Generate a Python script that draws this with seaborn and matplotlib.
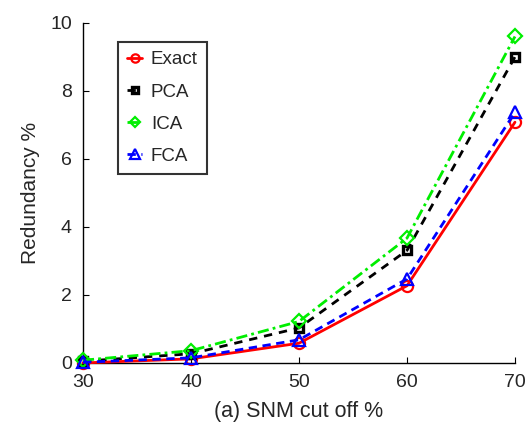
import matplotlib
matplotlib.use("Agg")
import matplotlib.pyplot as plt
import seaborn as sns
import pandas as pd

snm = [30, 40, 50, 60, 70]
exact = [0.0, 0.12, 0.58, 2.27, 7.08]
pca = [0.05, 0.27, 1.03, 3.31, 9.0]
ica = [0.08, 0.36, 1.22, 3.67, 9.6]
fca = [0.02, 0.15, 0.68, 2.47, 7.37]
xticks = [30, 40, 50, 60, 70]
yticks = [0, 2, 4, 6, 8, 10]

sns.set_style("white")
plt.rcParams['font.family'] = ['Liberation Sans', 'DejaVu Sans']

fig = plt.figure(figsize=(5.32, 4.24), dpi=100)
ax = fig.add_axes([0.156, 0.144, 0.812, 0.802])

series = [
    ("Exact", exact, "#ff0000", "-", "o", 8, 1.6),
    ("PCA", pca, "#000000", (0, (3, 2.5)), "s", 6, 2.4),
    ("ICA", ica, "#00ee00", (0, (4, 1.5, 1, 1.5)), "D", 7, 1.6),
    ("FCA", fca, "#0000ff", (0, (3, 2)), "^", 9, 1.6),
]
for name, vals, col, ls, mk, ms, mew in series:
    df = pd.DataFrame({"x": snm, "y": vals})
    sns.lineplot(data=df, x="x", y="y", ax=ax, color=col, linestyle=ls,
                 marker=mk, markersize=ms, markerfacecolor="none",
                 markeredgecolor=col, markeredgewidth=mew, linewidth=2,
                 label=name, zorder=3, clip_on=False)

ax.set_xlim(30, 70)
ax.set_ylim(0, 10)
ax.set_xticks(xticks)
ax.set_yticks(yticks)
ax.tick_params(direction="in", length=4, labelsize=14, color="black",
               bottom=True, left=True, pad=8)
for s in ["top", "right"]:
    ax.spines[s].set_visible(False)
for s in ["left", "bottom"]:
    ax.spines[s].set_color("black")
    ax.spines[s].set_linewidth(1.0)
ax.set_xlabel("(a) SNM cut off %", fontsize=15.5, labelpad=7.5)
ax.set_ylabel("Redundancy %", fontsize=15, labelpad=7.5)

leg = ax.legend(loc="upper left", bbox_to_anchor=(0.081, 0.944), fontsize=13.5,
                frameon=True, fancybox=False, edgecolor="black",
                handlelength=0.8, handletextpad=0.45, borderpad=0.5,
                labelspacing=0.8, borderaxespad=0, markerscale=0.75)
leg.get_frame().set_linewidth(1.5)

fig.savefig("out.png", dpi=100)
